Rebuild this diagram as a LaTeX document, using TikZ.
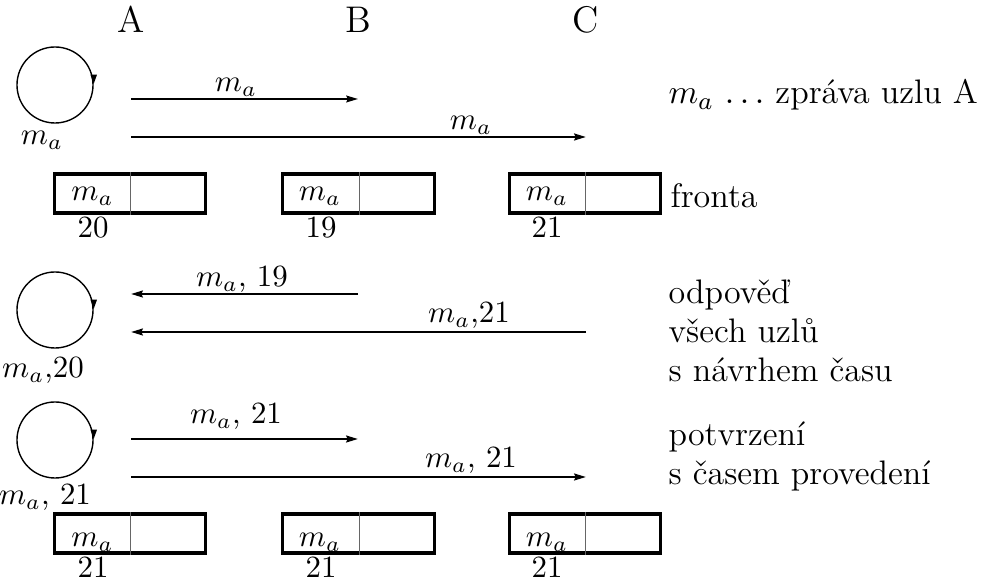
\documentclass[tikz,border=0pt]{standalone}
\usepackage{fontspec}
\usetikzlibrary{arrows.meta,calc}
\begin{document}
\begin{tikzpicture}[x=0.3236pt,y=-0.3236pt,
  msg/.style={line width=0.75pt,-{Stealth[length=3.8pt,width=2.2pt,inset=0.5pt]}},
  selfloop/.style={circle,draw,line width=0.45pt,minimum size=24.6pt,inner sep=0pt},
  looptip/.style={line width=0.45pt,-{Triangle[length=3pt,width=2pt]}},
  qbox/.style={draw,line width=1pt,minimum width=48.9pt,minimum height=12.6pt,inner sep=0pt},
  qsep/.style={line width=0.4pt,draw=black!60},
  lbl/.style={anchor=base,inner sep=0pt},
  big/.style={font=\fontsize{12}{14.4}\selectfont},
  note/.style={font=\fontsize{11}{13.2}\selectfont,anchor=base west,inner sep=0pt}]
\useasboundingbox (0,0) rectangle (989,580);

% node names
\node[lbl,big] (hA) at (131,33) {A};
\node[lbl,big] (hB) at (358,33) {B};
\node[lbl,big] (hC) at (586,33) {C};

% self-delivery loops at node A
\node[selfloop] (c1) at (55,85) {};
\node[selfloop] (c2) at (55,310) {};
\node[selfloop] (c3) at (55,440) {};
\foreach \c in {c1,c2,c3}
  \draw[looptip] ($(\c.east)+(0,-10)$) -- ($(\c.east)+(0,-1)$);
\node[lbl] (c1l) at (42,145) {$m_a$};
\node[lbl] (c2l) at (43,378) {$m_a$,20};
\node[lbl] (c3l) at (45,505) {$m_a$, 21};

% end points of the message arrows
\coordinate (p1a) at (131,99);  \coordinate (p1b) at (358,99);
\coordinate (p2a) at (131,137); \coordinate (p2c) at (586,137);
\coordinate (p3a) at (131,294); \coordinate (p3b) at (358,294);
\coordinate (p4a) at (131,332); \coordinate (p4c) at (586,332);
\coordinate (p5a) at (131,439); \coordinate (p5b) at (358,439);
\coordinate (p6a) at (131,477); \coordinate (p6c) at (586,477);

% broadcast of the message
\draw[msg,line width=0.55pt] (p1a) -- (p1b);
\draw[msg,line width=0.9pt] (p2a) -- (p2c);
\node[lbl] (l1) at (236,92) {$m_a$};
\node[lbl] (l2) at (471,130) {$m_a$};

% replies with proposed times
\draw[msg] (p3b) -- (p3a);
\draw[msg] (p4c) -- (p4a);
\node[lbl] (l3) at (242,287) {$m_a$, 19};
\node[lbl] (l4) at (469,323) {$m_a$,21};

% confirmation with the execution time
\draw[msg] (p5a) -- (p5b);
\draw[msg] (p6a) -- (p6c);
\node[lbl] (l5) at (236,424) {$m_a$, 21};
\node[lbl] (l6) at (471,468) {$m_a$, 21};

% queues
\node[qbox] (q1) at (130,193.5) {};
\node[qbox] (q2) at (358.5,193.5) {};
\node[qbox] (q3) at (585,193.5) {};
\node[qbox] (q4) at (130,533.5) {};
\node[qbox] (q5) at (358.5,533.5) {};
\node[qbox] (q6) at (585,533.5) {};
\foreach \q in {q1,q2,q3,q4,q5,q6}
  \draw[qsep] ($(\q.north west)!0.505!(\q.north east)$) -- ($(\q.south west)!0.505!(\q.south east)$);

\node[lbl] (q1m) at (92.5,201) {$m_a$};
\node[lbl] (q2m) at (320,201) {$m_a$};
\node[lbl] (q3m) at (547,201) {$m_a$};
\node[lbl] (q1t) at (93,238) {20};
\node[lbl] (q2t) at (321,238) {19};
\node[lbl] (q3t) at (547,238) {21};

\node[lbl] (q4m) at (92.5,547) {$m_a$};
\node[lbl] (q5m) at (320,547) {$m_a$};
\node[lbl] (q6m) at (547,547) {$m_a$};
\node[lbl] (q4t) at (93,578) {21};
\node[lbl] (q5t) at (321,578) {21};
\node[lbl] (q6t) at (547,578) {21};

% legend
\node[note] (n1) at (668,104) {$m_a$ $\ldots$ zpráva uzlu A};
\node[note] (n2) at (670,208) {fronta};
\node[note] (n3) at (668,304) {odpověď};
\node[note] (n4) at (668,343) {všech uzlů};
\node[note] (n5) at (668,382) {s návrhem času};
\node[note] (n6) at (668,446) {potvrzení};
\node[note] (n7) at (668,485) {s časem provedení};
\end{tikzpicture}
\end{document}
